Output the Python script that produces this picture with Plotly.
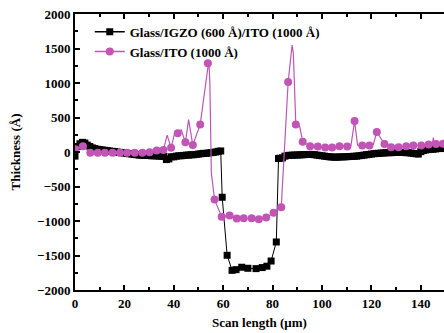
import plotly.graph_objects as go

# ---- data: Glass/IGZO (600 Å)/ITO (1000 Å)  (black squares)
igzo_x = list(range(0, 60)) + [59.6, 61.6, 63.6, 65.2, 67.5, 70.0, 73.3, 75.8, 77.7, 79.4, 81.5, 82.4] + list(range(83, 152))
igzo_y = [
    -60, 80, 120, 140, 130, 100, 80, 60, 50, 40,
    35, 30, 25, 20, 15, 10, 5, 0, -5, -10,
    -15, -20, -25, -30, -35, -40, -45, -45, -50, -50,
    -50, -55, -55, -55, -60, -60, -65, -110, -100, -70,
    -70, -60, -55, -55, -50, -45, -45, -40, -40, -35,
    -30, -25, -20, -20, -15, -10, -5, 0, 10, 15,
    -656, -1497, -1715, -1705, -1670, -1685, -1690, -1675, -1655, -1580, -1304, -95,
    -90, -85, -60, -50, -48, -46, -45, -43, -42, -40,
    -38, -36, -35, -35, -40, -45, -50, -55, -60, -65,
    -70, -72, -75, -75, -72, -70, -70, -68, -66, -64,
    -62, -60, -55, -50, -45, -40, -35, -30, -25, -20,
    -20, -15, -15, -10, -10, -10, -5, -5, -5, -5,
    -5, -10, -10, -15, -20, -25, -30, 5, 20, 30,
    35, 40, 40, 45, 50, 50, 55, 55, 60, 60,
    62, 62, 65,
]

# ---- data: Glass/ITO (1000 Å)  (pink circles); marked = 1 where a symbol is drawn
ito_x = [0.2, 3.2, 6.2, 9.2, 12.1, 15.2, 18.2, 21.1, 24.2, 27.3,
         30.2, 33.1, 35.8, 37.3, 38.9, 40.3, 41.6, 43.0, 44.7, 46.0,
         47.7, 50.7, 53.3, 53.8, 54.2, 54.6, 55.2, 56.5, 59.4, 62.6,
         65.5, 68.3, 71.5, 74.4, 77.4, 80.4, 83.5, 86.3, 87.4, 87.9,
         88.4, 89.4, 90.9, 92.2, 95.2, 98.3, 101.3, 104.1, 107.1, 110.2,
         111.7, 113.2, 114.4, 116.3, 119.2, 120.8, 122.2, 125.3, 128.0, 131.0,
         134.1, 137.0, 140.2, 143.2, 144.7, 145.1, 145.5, 146.2, 149.0, 152.0]
ito_y = [40, 85, -10, -10, -10, -10, -10, -10, -10, -10,
         -5, 20, 30, 245, 60, 265, 270, 320, 140, 470,
         100, 400, 1150, 1285, 1330, 1000, -300, -690, -940, -920,
         -965, -960, -960, -975, -950, -880, -800, 1015, 1450, 1550,
         1430, 400, 380, 150, 85, 80, 65, 65, 85, 80,
         85, 450, 100, 95, 95, 110, 290, 115, 70, 70,
         85, 95, 95, 110, 120, 210, 115, 115, 120, 125]
ito_marked = [1, 1, 1, 1, 1, 1, 1, 1, 1, 1,
              1, 1, 1, 0, 1, 0, 1, 0, 1, 0,
              1, 1, 0, 1, 0, 0, 0, 1, 1, 1,
              1, 1, 1, 1, 1, 1, 1, 1, 0, 0,
              0, 1, 0, 1, 1, 1, 1, 1, 1, 1,
              0, 1, 0, 1, 1, 0, 1, 1, 1, 1,
              1, 1, 1, 1, 0, 0, 0, 1, 1, 0]

x_ticks = [0, 20, 40, 60, 80, 100, 120, 140]
y_ticks = [-2000, -1500, -1000, -500, 0, 500, 1000, 1500, 2000]

BLACK = "#000000"
PINK = "#C154B5"
FONT = dict(family="Liberation Serif, Times New Roman, serif", size=13, color="black", weight="bold")

fig = go.Figure()

# IGZO/ITO
fig.add_trace(go.Scatter(x=igzo_x, y=igzo_y, mode="lines+markers",
                         line=dict(color=BLACK, width=1),
                         marker=dict(symbol="square", size=7, color=BLACK), showlegend=False))

# ITO line (dense) + markers (sparse)
fig.add_trace(go.Scatter(x=ito_x, y=ito_y, mode="lines",
                         line=dict(color=PINK, width=1.2), showlegend=False, hoverinfo="skip"))
mx = [x for x, m in zip(ito_x, ito_marked) if m]
my = [y for y, m in zip(ito_y, ito_marked) if m]
fig.add_trace(go.Scatter(x=mx, y=my, mode="markers",
                         marker=dict(symbol="circle", size=8, color=PINK), showlegend=False))

# legend entries
fig.add_trace(go.Scatter(x=[None], y=[None], mode="lines+markers", name="Glass/IGZO (600 Å)/ITO (1000 Å)",
                         line=dict(color=BLACK, width=1.5), marker=dict(symbol="square", size=7, color=BLACK)))
fig.add_trace(go.Scatter(x=[None], y=[None], mode="lines+markers", name="Glass/ITO (1000 Å)",
                         line=dict(color=PINK, width=1.5), marker=dict(symbol="circle", size=8, color=PINK)))

fig.update_layout(
    width=444, height=333,
    margin=dict(l=75, r=0, t=14, b=43),
    paper_bgcolor="white", plot_bgcolor="white",
    font=FONT,
    showlegend=True,
    legend=dict(x=0.04, y=0.99, xanchor="left", yanchor="top", bgcolor="rgba(0,0,0,0)",
                font=FONT, itemwidth=30, tracegroupgap=0, traceorder="normal"),
)
fig.update_xaxes(
    range=[0, 149.4], tickvals=x_ticks, ticks="inside", ticklen=5, tickwidth=1.5, tickcolor="black",
    minor=dict(ticks="inside", ticklen=3, dtick=10, tickwidth=1.5, tickcolor="black"),
    showline=True, linewidth=2, linecolor="black", mirror="ticks",
    showgrid=False, zeroline=False, tickfont=FONT,
    title=dict(text="Scan length (μm)", font=FONT, standoff=8),
)
fig.update_yaxes(
    range=[-2000, 2000], tickvals=y_ticks, ticks="inside", ticklen=5, tickwidth=1.5, tickcolor="black",
    minor=dict(ticks="inside", ticklen=3, dtick=250, tickwidth=1.5, tickcolor="black"),
    showline=True, linewidth=2, linecolor="black", mirror=False,
    showgrid=False, zeroline=False, tickfont=FONT,
    title=dict(text="Thickness (Å)", font=FONT, standoff=13),
)

fig.write_html("out.html")
